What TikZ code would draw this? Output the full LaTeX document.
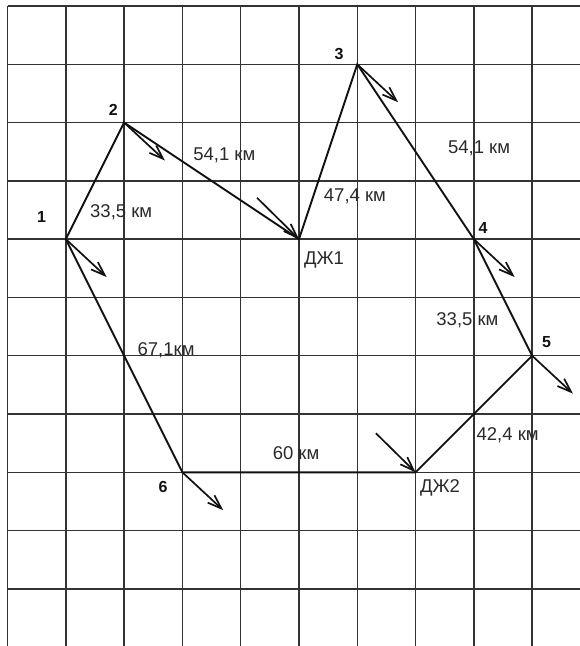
\documentclass[tikz,border=0pt]{standalone}
\usepackage{fontspec}
\setmainfont{Liberation Sans}
\usepackage{tikz}
\usepackage{xcolor}
\usetikzlibrary{arrows.meta,positioning,calc}
\definecolor{ink}{HTML}{111111}
\definecolor{gridgray}{HTML}{333333}
\definecolor{txtgray}{HTML}{2A2A2A}
\tikzset{
  gridline/.style={draw=gridgray,line width=1.4pt},
  route/.style={draw=ink,line width=1.9pt,line join=miter},
  dirarr/.style={-{Straight Barb[length=14pt,width=10pt,line width=1.7pt]},line width=1.7pt,color=ink},
  ptlabel/.style={font=\fontsize{16}{19}\selectfont\bfseries,text=ink,inner sep=0pt},
  kmlabel/.style={font=\fontsize{18.5}{21}\selectfont,text=txtgray,inner sep=0pt}
}

\begin{document}
\begin{tikzpicture}[x=58.3pt,y=58.3pt]
  \useasboundingbox[fill=white] (-0.129,0.103) rectangle (9.82,-10.98);

  % grid
  \foreach \i in {0,...,9} {
    \draw[gridline] (\i,0) -- (\i,-10.98);
  }
  \foreach \j in {0,...,10} {
    \draw[gridline] (0,-\j) -- (9.82,-\j);
  }

  % points of the route
  \coordinate (p1) at (1,-4);
  \coordinate (p2) at (2,-2);
  \coordinate (dz1) at (5,-4);
  \coordinate (p3) at (6,-1);
  \coordinate (p4) at (8,-4);
  \coordinate (p5) at (9,-6);
  \coordinate (dz2) at (7,-8);
  \coordinate (p6) at (3,-8);

  \draw[route] (p1) -- (p2) -- (dz1) -- (p3) -- (p4) -- (p5) -- (dz2) -- (p6) -- cycle;

  % direction arrows
  \foreach \p in {p1,p2,p3,p4,p5,p6} {
    \draw[dirarr] (\p) -- ++(0.7,-0.65);
  }
  \coordinate (dz1in) at (4.28,-3.29);
  \coordinate (dz2in) at (6.32,-7.33);
  \draw[dirarr] (dz1in) -- (dz1);
  \draw[dirarr] (dz2in) -- (dz2);

  % point names
  \node[ptlabel] (n1) at (0.586,-3.62) {1};
  \node[ptlabel] (n2) at (1.815,-1.78) {2};
  \node[ptlabel] (n3) at (5.69,-0.82) {3};
  \node[ptlabel] (n4) at (8.16,-3.81) {4};
  \node[ptlabel] (n5) at (9.25,-5.76) {5};
  \node[ptlabel] (n6) at (2.67,-8.26) {6};
  \node[kmlabel] (ndz1) at (5.43,-4.35) {ДЖ1};
  \node[kmlabel] (ndz2) at (7.42,-8.26) {ДЖ2};

  % distances
  \node[kmlabel] (d12) at (1.95,-3.53) {33,5 км};
  \node[kmlabel] (d2j) at (3.72,-2.56) {54,1 км};
  \node[kmlabel] (dj3) at (5.96,-3.26) {47,4 км};
  \node[kmlabel] (d34) at (8.09,-2.44) {54,1 км};
  \node[kmlabel] (d45) at (7.89,-5.39) {33,5 км};
  \node[kmlabel] (d5j) at (8.58,-7.36) {42,4 км};
  \node[kmlabel] (dj6) at (4.95,-7.67) {60 км};
  \node[kmlabel] (d61) at (2.72,-5.90) {67,1км};
\end{tikzpicture}
\end{document}
